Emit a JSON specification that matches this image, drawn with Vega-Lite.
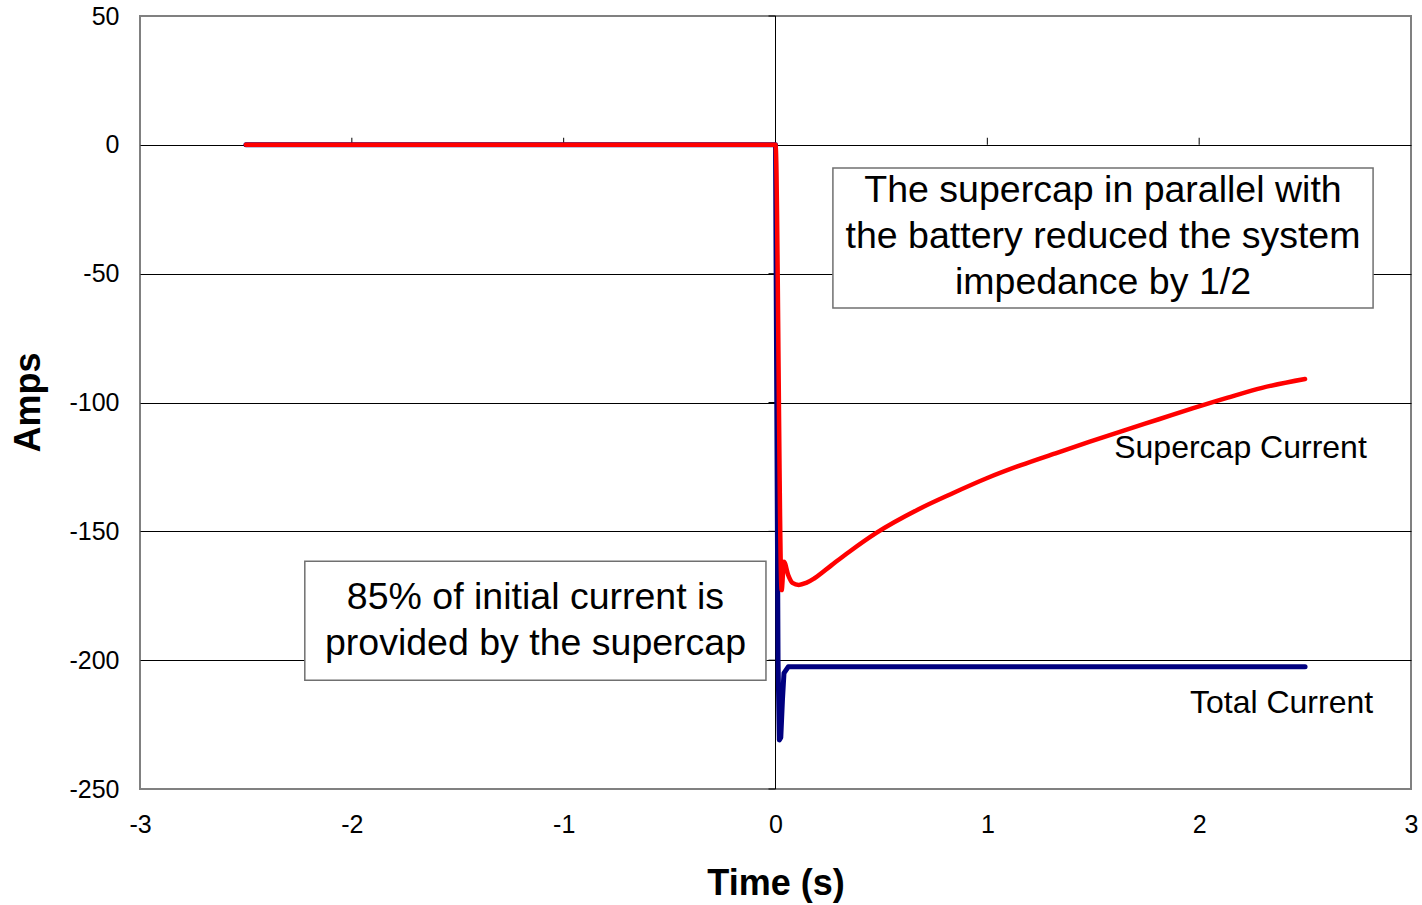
{
  "$schema": "https://vega.github.io/schema/vega-lite/v6.json",
  "autosize": {"type": "none"},
  "width": 1271,
  "height": 773,
  "padding": {"left": 140, "top": 16, "right": 11, "bottom": 116},
  "background": "white",
  "config": {
    "view": {"stroke": "#808080", "strokeWidth": 2},
    "font": "Liberation Sans"
  },
  "datasets": {
    "series": [
      {"t": -2.5, "amps": 0, "series": "Total Current"},
      {"t": 0, "amps": 0, "series": "Total Current"},
      {"t": 0.012, "amps": -200, "series": "Total Current"},
      {"t": 0.018, "amps": -231, "series": "Total Current"},
      {"t": 0.025, "amps": -230, "series": "Total Current"},
      {"t": 0.033, "amps": -215, "series": "Total Current"},
      {"t": 0.04, "amps": -205, "series": "Total Current"},
      {"t": 0.06, "amps": -202.6, "series": "Total Current"},
      {"t": 2.5, "amps": -202.6, "series": "Total Current"},
      {"t": -2.5, "amps": 0, "series": "Supercap Current"},
      {"t": 0, "amps": 0, "series": "Supercap Current"},
      {"t": 0.029, "amps": -172.8, "series": "Supercap Current"},
      {"t": 0.04, "amps": -161.8, "series": "Supercap Current"},
      {"t": 0.06, "amps": -167, "series": "Supercap Current"},
      {"t": 0.08, "amps": -170, "series": "Supercap Current"},
      {"t": 0.11, "amps": -170.8, "series": "Supercap Current"},
      {"t": 0.145, "amps": -170, "series": "Supercap Current"},
      {"t": 0.184, "amps": -168.2, "series": "Supercap Current"},
      {"t": 0.265, "amps": -163.1, "series": "Supercap Current"},
      {"t": 0.347, "amps": -158.0, "series": "Supercap Current"},
      {"t": 0.476, "amps": -150.6, "series": "Supercap Current"},
      {"t": 0.671, "amps": -141.6, "series": "Supercap Current"},
      {"t": 0.834, "amps": -135.3, "series": "Supercap Current"},
      {"t": 0.997, "amps": -129.4, "series": "Supercap Current"},
      {"t": 1.159, "amps": -124.3, "series": "Supercap Current"},
      {"t": 1.322, "amps": -119.7, "series": "Supercap Current"},
      {"t": 1.484, "amps": -115.2, "series": "Supercap Current"},
      {"t": 1.647, "amps": -110.8, "series": "Supercap Current"},
      {"t": 1.81, "amps": -106.5, "series": "Supercap Current"},
      {"t": 1.972, "amps": -102.2, "series": "Supercap Current"},
      {"t": 2.135, "amps": -98.1, "series": "Supercap Current"},
      {"t": 2.297, "amps": -94.3, "series": "Supercap Current"},
      {"t": 2.5, "amps": -90.9, "series": "Supercap Current"}
    ],
    "boxes": [
      {"x1": 0.271, "x2": 2.821, "y1": -9.0, "y2": -63.3},
      {"x1": -2.222, "x2": -0.045, "y1": -161.6, "y2": -207.8}
    ],
    "boxText": [
      {"x": 1.546, "y": -17.9, "label": "The supercap in parallel with\nthe battery reduced the system\nimpedance by 1/2"},
      {"x": -1.133, "y": -175.8, "label": "85% of initial current is\nprovided by the supercap"}
    ],
    "seriesLabels": [
      {"x": 2.195, "y": -117.7, "label": "Supercap Current"},
      {"x": 2.389, "y": -216.6, "label": "Total Current"}
    ],
    "yTicks": [
      {"t": 0, "amps": 50}, {"t": 0, "amps": 0}, {"t": 0, "amps": -50},
      {"t": 0, "amps": -100}, {"t": 0, "amps": -150}, {"t": 0, "amps": -200}, {"t": 0, "amps": -250}
    ],
    "xTicks": [
      {"t": -2, "amps": 0}, {"t": -1, "amps": 0}, {"t": 1, "amps": 0}, {"t": 2, "amps": 0}
    ]
  },
  "layer": [
    {
      "data": {"values": [{"t": 0}]},
      "mark": {"type": "rule", "color": "black", "strokeWidth": 1},
      "encoding": {
        "x": {
          "field": "t", "type": "quantitative",
          "scale": {"domain": [-3, 3], "nice": false, "zero": false},
          "axis": {
            "title": "Time (s)", "values": [-3, -2, -1, 0, 1, 2, 3],
            "labelExpr": "datum.value + ''",
            "labelFlush": false, "labelOverlap": false, "labelBound": false,
            "grid": false, "ticks": false, "domain": false,
            "labelFontSize": 25, "labelColor": "black", "labelPadding": 23,
            "titleFontSize": 36, "titleFontWeight": "bold", "titleColor": "black",
            "titleBaseline": "middle", "titleY": 94
          }
        }
      }
    },
    {
      "data": {"name": "yTicks"},
      "mark": {"type": "tick", "orient": "horizontal", "size": 7, "thickness": 1, "xOffset": -3.5, "color": "black", "opacity": 1},
      "encoding": {
        "x": {"field": "t", "type": "quantitative"},
        "y": {
          "field": "amps", "type": "quantitative",
          "scale": {"domain": [-250, 50], "nice": false, "zero": false},
          "axis": {
            "title": "Amps", "values": [50, 0, -50, -100, -150, -200, -250],
            "labelExpr": "datum.value + ''",
            "labelFlush": false, "labelOverlap": false, "labelBound": false,
            "grid": true,
            "gridColor": {"condition": {"test": "datum.value == 50 || datum.value == -250", "value": "#808080"}, "value": "black"},
            "gridWidth": 1, "gridOpacity": 1,
            "ticks": false, "domain": false,
            "labelFontSize": 25, "labelColor": "black", "labelPadding": 21,
            "titleFontSize": 36, "titleFontWeight": "bold", "titleColor": "black",
            "titleAngle": -90, "titleBaseline": "middle", "titleX": -112, "titleY": 386
          }
        }
      }
    },
    {
      "data": {"name": "xTicks"},
      "mark": {"type": "tick", "orient": "vertical", "size": 7, "thickness": 1, "yOffset": -3.5, "color": "black", "opacity": 1},
      "encoding": {
        "x": {"field": "t", "type": "quantitative"},
        "y": {"field": "amps", "type": "quantitative"}
      }
    },
    {
      "data": {"name": "series"},
      "transform": [{"filter": "datum.series == 'Total Current'"}],
      "mark": {"type": "line", "color": "#000080", "strokeWidth": 5, "strokeCap": "round", "strokeJoin": "round"},
      "encoding": {
        "x": {"field": "t", "type": "quantitative"},
        "y": {"field": "amps", "type": "quantitative"}
      }
    },
    {
      "data": {"name": "series"},
      "transform": [{"filter": "datum.series == 'Supercap Current'"}],
      "mark": {"type": "line", "color": "#FF0000", "strokeWidth": 4.5, "strokeCap": "round", "strokeJoin": "round", "interpolate": "monotone"},
      "encoding": {
        "x": {"field": "t", "type": "quantitative"},
        "y": {"field": "amps", "type": "quantitative"}
      }
    },
    {
      "data": {"name": "boxes"},
      "mark": {"type": "rect", "fill": "white", "stroke": "#707070", "strokeWidth": 1.5},
      "encoding": {
        "x": {"field": "x1", "type": "quantitative"},
        "x2": {"field": "x2"},
        "y": {"field": "y1", "type": "quantitative"},
        "y2": {"field": "y2"}
      }
    },
    {
      "data": {"name": "boxText"},
      "mark": {"type": "text", "fontSize": 37.5, "lineHeight": 46, "lineBreak": "\n", "align": "center", "baseline": "middle", "color": "black", "font": "Liberation Sans"},
      "encoding": {
        "x": {"field": "x", "type": "quantitative"},
        "y": {"field": "y", "type": "quantitative"},
        "text": {"field": "label"}
      }
    },
    {
      "data": {"name": "seriesLabels"},
      "mark": {"type": "text", "fontSize": 32, "align": "center", "baseline": "middle", "color": "black", "font": "Liberation Sans"},
      "encoding": {
        "x": {"field": "x", "type": "quantitative"},
        "y": {"field": "y", "type": "quantitative"},
        "text": {"field": "label"}
      }
    }
  ]
}
